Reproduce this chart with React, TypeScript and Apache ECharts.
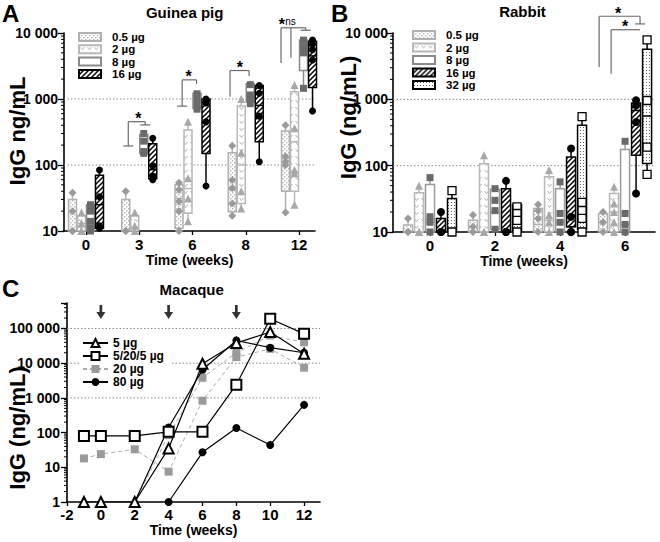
import React, { useEffect, useRef } from 'react';
import * as echarts from 'echarts';

const FONT = '"Liberation Sans", Arial, Helvetica, sans-serif';

// ---------- Panel A : Guinea pig ----------
const weeksA = ['0', '3', '6', '8', '12'];
const dosesA = ['0.5 µg', '2 µg', '8 µg', '16 µg'];
// box statistics per week: [min, q1, median, q3, max]
const boxA05 = [[10, 10, 20, 30, 38], [10, 10, 10, 30, 40], [10, 11, 31, 50, 54], [17, 19.5, 42, 153, 195], [19, 40, 126, 327, 400]];
const boxA2 = [[10, 10, 13, 17, 19], [10, 10, 11, 17, 19], [14, 18.5, 44, 340, 453], [22, 26, 100, 780, 1000], [25, 40, 225, 1290, 1630]];
const boxA8 = [[10, 10, 14, 25, 25], [150, 150, 225, 290, 300], [700, 720, 960, 1220, 1220], [850, 900, 1150, 1700, 1700], [1450, 2700, 5200, 7800, 7800]];
const boxA16 = [[11, 11, 25, 70, 84], [60, 62, 85, 210, 254], [48, 150, 450, 1000, 1000], [112, 225, 800, 1600, 1600], [660, 1500, 4500, 7500, 7800]];
// individual animals per week
const ptsA05 = [[38, 20, 10, 10], [40, 10, 10], [54, 42, 28, 20, 10], [195, 59, 45, 26, 17], [400, 135, 112, 100, 19]];
const ptsA2 = [[19, 13, 10, 10], [19, 12, 10], [453, 63, 31, 14], [1000, 153, 40, 22], [1630, 360, 84, 75, 25]];
const ptsA8 = [[25, 20, 14, 11, 10], [300, 230, 160, 150], [1200, 1000, 800, 700], [1650, 1150, 1000, 850], [7800, 6200, 5000, 1450]];
const ptsA16 = [[84, 33, 12, 11], [254, 97, 68, 60], [1000, 870, 450, 48], [1600, 1220, 550, 112], [7800, 6800, 5600, 3900, 660]];

// ---------- Panel B : Rabbit ----------
const weeksB = ['0', '2', '4', '6'];
const dosesB = ['0.5 µg', '2 µg', '8 µg', '16 µg', '32 µg'];
const boxB05 = [[10, 10, 10, 12.7, 16], [10, 10, 12, 15, 18], [10, 10, 13, 22.7, 26], [10, 10, 14, 19, 20]];
const boxB2 = [[10, 10, 10, 39, 50], [10, 10, 10, 107, 144], [10, 10, 15, 68, 86], [10, 10, 20, 38, 48]];
const boxB8 = [[10, 10, 14, 52, 66], [11, 11, 20, 44, 45], [10, 10, 14, 45, 57], [10, 10, 13, 175, 233]];
const boxB16 = [[10, 10, 10, 16, 20], [10, 10, 10, 45, 59], [10, 12, 12, 135, 181], [38, 144, 680, 880, 970]];
const boxB32 = [[10, 10, 10, 32, 42], [10, 10, 15, 26, 26], [10, 11, 22, 405, 550], [74, 108, 560, 5700, 7900]];
const ptsB05 = [[16, 10, 10], [18, 12, 10], [26, 21, 16, 10], [20, 14, 10]];
const ptsB2 = [[50, 10, 10], [144, 10, 10], [86, 18, 14, 10], [48, 27, 20, 14, 10]];
const ptsB8 = [[66, 17, 14, 10], [45, 30, 21, 11], [57, 19, 14, 10], [233, 19, 13, 10]];
const ptsB16 = [[20, 10, 10], [59, 10, 10], [181, 17, 10, 10], [970, 810, 455, 38]];
const ptsB32 = [[42, 10], [24, 19, 15, 10], [550, 28, 21, 16, 10], [7900, 960, 190, 74]];

// ---------- Panel C : Macaque ----------
const weeksC = [-1, 0, 2, 4, 6, 8, 10, 12];
const mac5 = [1, 1, 1, 35, 9600, 38000, 79000, 18700];
const mac5205 = [80, 80, 80, 105, 105, 2400, 190000, 70000];
const mac20a = [18, 24, 33, 7.5, 830, 15000, 26000, 7400];
const mac20bWeeks = [2, 4, 6, 8, 10, 12];
const mac20b = [1, 85, 3800, 20000, 63000, 40000];
const mac80aWeeks = [2, 4, 6, 8, 10, 12];
const mac80a = [1, 140, 6500, 45000, 28000, 20000];
const mac80bWeeks = [4, 6, 8, 10, 12];
const mac80b = [1, 27, 135, 44, 630];
const boostWeeks = [0, 4, 8];
const xTicksC = [-2, 0, 2, 4, 6, 8, 10, 12];

// gridlines & significance annotations
const gridAB = [100, 1000];
const gridC = [1000, 10000, 100000];
const bracketsA = [
  { g: 1, top: 453, legs: [[-1.22, 194, 1], [0.67, 405, 1]], labels: [[-0.1, '*']] },
  { g: 2, top: 1950, legs: [[-1.15, 780, 1], [0.45, 1700, 0]], labels: [[-0.44, '*']] },
  { g: 3, top: 2700, legs: [[-1.75, 1080, 0], [0.37, 2230, 0]], labels: [[-0.67, '*']] },
  { g: 4, top: 12000, legs: [[-2.0, 3500, 0], [-0.9, 4200, 0], [0.74, 11000, 1]], labels: [[-1.92, '*'], [-0.95, 'ns']] },
];
const bracketsB = [
  { g: 3, top: 17900, legs: [[-2.36, 3070, 0], [1.36, 13700, 1]], labels: [[-0.64, '*']] },
  { g: 3, top: 11200, legs: [[-1.27, 2440, 0], [1.36, 11200, 0]], labels: [[0, '*']] },
];

const fmtNum = (v: number) => String(Math.round(v)).replace(/\B(?=(\d{3})+(?!\d))/g, ' ');
const fmtPow = (v: number) => {
  const lg = Math.log10(v);
  return Math.abs(lg - Math.round(lg)) < 1e-6 ? fmtNum(Math.pow(10, Math.round(lg))) : '';
};
const minorLog = (lo: number, hi: number) => {
  const out: number[][] = [];
  for (let d = lo; d < hi; d *= 10) for (let k = 2; k <= 9; k++) if (d * k <= hi) out.push([0, d * k]);
  return out;
};

function makePattern(size: number, draw: (c: CanvasRenderingContext2D) => void) {
  const cv = document.createElement('canvas');
  cv.width = size; cv.height = size;
  const ctx = cv.getContext('2d')!;
  ctx.fillStyle = '#fff'; ctx.fillRect(0, 0, size, size);
  draw(ctx);
  return { image: cv, repeat: 'repeat', imageWidth: size, imageHeight: size } as any;
}

function buildOption() {
  const dotsLight = makePattern(4, (c) => { c.fillStyle = '#b4b4b4'; c.fillRect(0, 0, 1.4, 1.4); c.fillRect(2, 2, 1.4, 1.4); });
  const chevrons = makePattern(7, (c) => { c.strokeStyle = '#b0b0b0'; c.lineWidth = 1; c.beginPath(); c.moveTo(1.5, 2); c.lineTo(3.5, 4.5); c.lineTo(5.5, 2); c.stroke(); });
  const hatch = makePattern(5, (c) => {
    c.strokeStyle = '#000'; c.lineWidth = 1.5; c.beginPath();
    c.moveTo(-1, 6); c.lineTo(6, -1); c.moveTo(-1, 1); c.lineTo(1, -1); c.moveTo(4, 6); c.lineTo(6, 4); c.stroke();
  });
  const dotsDark = makePattern(3, (c) => { c.fillStyle = '#666'; c.fillRect(1, 1, 1, 1); });

  const styleA = [
    { fill: dotsLight, stroke: '#b0b0b0', sym: 'diamond', sc: '#9a9a9a', size: 8 },
    { fill: chevrons, stroke: '#b8b8b8', sym: 'triangle', sc: '#a8a8a8', size: 8 },
    { fill: '#fff', stroke: '#8a8a8a', sym: 'rect', sc: '#6a6a6a', size: 7 },
    { fill: hatch, stroke: '#000', sym: 'circle', sc: '#000', size: 7 },
  ];
  const styleB = [
    { fill: dotsLight, stroke: '#b0b0b0', sym: 'diamond', sc: '#9a9a9a', size: 8 },
    { fill: chevrons, stroke: '#b8b8b8', sym: 'triangle', sc: '#a8a8a8', size: 8 },
    { fill: '#fff', stroke: '#9a9a9a', sym: 'rect', sc: '#6a6a6a', size: 7 },
    { fill: hatch, stroke: '#000', sym: 'circle', sc: '#000', size: 8 },
    { fill: dotsDark, stroke: '#000', sym: 'rect', sc: '#fff', size: 8, border: '#000' },
  ];

  const boxSeries = (name: string, grid: number, boxes: number[][], j: number, n: number, slot: number, w: number, st: any) => ({
    type: 'custom', name, xAxisIndex: grid, yAxisIndex: grid, z: 3,
    itemStyle: { color: st.fill, borderColor: st.stroke, borderWidth: 1.5 },
    data: boxes.map((b, i) => [i, ...b]),
    renderItem: (params: any, api: any) => {
      const g = api.value(0);
      const off = (j - (n - 1) / 2) * slot;
      const y = (k: number) => api.coord([g, api.value(k)])[1];
      const cx = api.coord([g, api.value(3)])[0] + off;
      const yMin = y(1), yQ1 = y(2), yMed = y(3), yQ3 = y(4), yMax = y(5);
      const s = { stroke: st.stroke, lineWidth: 1.5 };
      return {
        type: 'group', children: [
          { type: 'line', shape: { x1: cx, y1: yMax, x2: cx, y2: yQ3 }, style: s },
          { type: 'line', shape: { x1: cx, y1: yQ1, x2: cx, y2: yMin }, style: s },
          { type: 'rect', shape: { x: cx - w / 2, y: yQ3, width: w, height: Math.max(yQ1 - yQ3, 0.5) }, style: { ...s, fill: st.fill } },
          { type: 'line', shape: { x1: cx - w / 2, y1: yMed, x2: cx + w / 2, y2: yMed }, style: s },
        ],
      };
    },
  });
  const ptSeries = (name: string, grid: number, pts: number[][], j: number, n: number, slot: number, st: any) => ({
    type: 'scatter', name, xAxisIndex: grid, yAxisIndex: grid, z: 4,
    symbol: st.sym, symbolSize: st.size, symbolOffset: [(j - (n - 1) / 2) * slot, 0],
    itemStyle: { color: st.sc, borderColor: st.border || st.sc, borderWidth: st.border ? 1.3 : 0, opacity: 1 },
    data: pts.flatMap((arr, i) => arr.map((v) => [i, v])),
  });
  const gridSeries = (grid: number, vals: number[]) => ({
    type: 'custom', xAxisIndex: grid, yAxisIndex: grid, z: 1, silent: true,
    data: vals.map((v) => [0, v]),
    renderItem: (params: any, api: any) => {
      const cs = params.coordSys;
      const yy = api.coord([api.value(0), api.value(1)])[1];
      return { type: 'line', shape: { x1: cs.x, y1: yy, x2: cs.x + cs.width, y2: yy }, style: { stroke: '#8c8c8c', lineWidth: 1, lineDash: [1.5, 2] } };
    },
  });
  const minorSeries = (grid: number, vals: number[][]) => ({
    type: 'custom', xAxisIndex: grid, yAxisIndex: grid, z: 5, silent: true,
    data: vals.map((r) => [r[0], r[1]]),
    renderItem: (params: any, api: any) => {
      const cs = params.coordSys;
      const yy = api.coord([api.value(0), api.value(1)])[1];
      return { type: 'line', shape: { x1: cs.x - 3, y1: yy, x2: cs.x, y2: yy }, style: { stroke: '#000', lineWidth: 1 } };
    },
  });
  const bracketSeries = (grid: number, list: any[], slot: number) => ({
    type: 'custom', xAxisIndex: grid, yAxisIndex: grid, z: 6, silent: true,
    data: list.map((b) => [b.g, b.top]),
    renderItem: (params: any, api: any) => {
      const b = list[params.dataIndex];
      const p = api.coord([api.value(0), api.value(1)]);
      const cx = p[0], topY = p[1];
      const ln = { stroke: '#6a6a6a', lineWidth: 1.2 };
      const xs = b.legs.map((l: number[]) => cx + l[0] * slot);
      const children: any[] = [
        { type: 'line', shape: { x1: Math.min(...xs), y1: topY, x2: Math.max(...xs), y2: topY }, style: ln },
      ];
      b.legs.forEach((l: number[], k: number) => {
        const yb = api.coord([api.value(0), l[1]])[1];
        children.push({ type: 'line', shape: { x1: xs[k], y1: topY, x2: xs[k], y2: yb }, style: ln });
        if (l[2]) children.push({ type: 'line', shape: { x1: xs[k] - 5, y1: yb, x2: xs[k] + 5, y2: yb }, style: ln });
      });
      b.labels.forEach((lb: any[]) => {
        const star = lb[1] === '*';
        children.push({
          type: 'text', x: cx + lb[0] * slot, y: topY - (star ? 3 : 6),
          style: { text: lb[1], font: star ? `bold 16px ${FONT}` : `10px ${FONT}`, fill: '#000', textAlign: 'center', textVerticalAlign: 'middle' },
        });
      });
      return { type: 'group', children };
    },
  });

  const series: any[] = [];
  series.push(gridSeries(0, gridAB), gridSeries(1, gridAB), gridSeries(2, gridC));
  const boxesA = [boxA05, boxA2, boxA8, boxA16];
  const pointsA = [ptsA05, ptsA2, ptsA8, ptsA16];
  const boxesB = [boxB05, boxB2, boxB8, boxB16, boxB32];
  const pointsB = [ptsB05, ptsB2, ptsB8, ptsB16, ptsB32];
  dosesA.forEach((d, j) => series.push(boxSeries(d, 0, boxesA[j], j, 4, 9, 8, styleA[j])));
  dosesB.forEach((d, j) => series.push(boxSeries(d, 1, boxesB[j], j, 5, 11, 9, styleB[j])));
  dosesA.forEach((d, j) => series.push(ptSeries(d, 0, pointsA[j], j, 4, 9, styleA[j])));
  dosesB.forEach((d, j) => series.push(ptSeries(d, 1, pointsB[j], j, 5, 11, styleB[j])));
  series.push(bracketSeries(0, bracketsA, 9), bracketSeries(1, bracketsB, 11));
  series.push(minorSeries(0, minorLog(10, 10000)), minorSeries(1, minorLog(10, 10000)), minorSeries(2, minorLog(1, 543000)));

  const lineS = (name: string, xs: number[], ys: number[], opt: any, hideFirst = false) => ({
    type: 'line', name, xAxisIndex: 2, yAxisIndex: 2,
    data: ys.map((v, i) => (hideFirst && i === 0 ? { value: [xs[i], v], symbol: 'none' } : [xs[i], v])),
    ...opt,
  });
  const gray20 = { symbol: 'rect', symbolSize: 8, itemStyle: { color: '#9a9a9a' }, lineStyle: { color: '#aaaaaa', width: 1, type: [4, 3] }, z: 3 };
  const black80 = { symbol: 'circle', symbolSize: 8, itemStyle: { color: '#000' }, lineStyle: { color: '#000', width: 1.2 }, z: 4 };
  series.push(
    lineS('20 µg', weeksC, mac20a, gray20),
    lineS('20 µg', mac20bWeeks, mac20b, gray20, true),
    lineS('80 µg', mac80aWeeks, mac80a, black80, true),
    lineS('80 µg', mac80bWeeks, mac80b, black80),
    lineS('5/20/5 µg', weeksC, mac5205, { symbol: 'emptyRect', symbolSize: 10, itemStyle: { color: '#000', borderWidth: 1.2 }, lineStyle: { color: '#000', width: 1.2 }, z: 5 }),
    lineS('5 µg', weeksC, mac5, { symbol: 'emptyTriangle', symbolSize: 10, itemStyle: { color: '#000', borderWidth: 1.2 }, lineStyle: { color: '#000', width: 1.2 }, z: 6 }),
    {
      type: 'scatter', name: 'boost', xAxisIndex: 2, yAxisIndex: 2, z: 6, silent: true,
      symbol: 'path://M2.5,0 L5.5,0 L5.5,7 L9,7 L4,14 L-1,7 L2.5,7 Z', symbolSize: [9, 14],
      itemStyle: { color: '#000' },
      data: boostWeeks.map((w) => [w, 300000]),
    },
  );

  const axisLine = { show: true, onZero: false, lineStyle: { color: '#000', width: 1.6 } };
  const tickStyle = { lineStyle: { color: '#000', width: 1.3 } };
  const lab = (size: number, margin: number) => ({ color: '#000', fontFamily: FONT, fontWeight: 'bold' as const, fontSize: size, margin });
  const xName = (gap: number) => ({
    name: 'Time (weeks)', nameLocation: 'middle' as const, nameGap: gap,
    nameTextStyle: { color: '#000', fontFamily: FONT, fontWeight: 'bold' as const, fontSize: 14 },
  });

  const legendBase = {
    orient: 'vertical', icon: 'rect', itemWidth: 22, itemHeight: 8, padding: 0,
    textStyle: { color: '#000', fontFamily: FONT, fontWeight: 'bold', fontSize: 11.5, lineHeight: 12, padding: [0, 0, 0, 6] },
    selectedMode: false,
  };

  const titleText = (text: string, x: number, y: number, size: number, align = 'center', rotation = 0) => ({
    type: 'text', x, y, rotation, silent: true,
    style: { text, font: `bold ${size}px ${FONT}`, fill: '#000', textAlign: align, textVerticalAlign: 'middle' },
  });

  return {
    animation: false,
    backgroundColor: '#fff',
    grid: [
      { left: 64, top: 33, width: 251, height: 198 },
      { left: 393, top: 33, width: 262, height: 199 },
      { left: 67, top: 303, width: 253, height: 199 },
    ],
    xAxis: [
      {
        type: 'value', gridIndex: 0, min: -0.413, max: 4.3, axisLine, splitLine: { show: false },
        axisTick: { show: true, length: 4, customValues: [0, 1, 2, 3, 4], ...tickStyle },
        axisLabel: { ...lab(15, 6), customValues: [0, 1, 2, 3, 4], formatter: (v: number) => weeksA[Math.round(v)] },
        ...xName(19),
      },
      {
        type: 'value', gridIndex: 1, min: -0.569, max: 3.46, axisLine, splitLine: { show: false },
        axisTick: { show: true, length: 4, customValues: [0, 1, 2, 3], ...tickStyle },
        axisLabel: { ...lab(15, 6), customValues: [0, 1, 2, 3], formatter: (v: number) => weeksB[Math.round(v)] },
        ...xName(18),
      },
      {
        type: 'value', gridIndex: 2, min: -2, max: 12.94, axisLine, splitLine: { show: false },
        axisTick: { show: true, length: 4, customValues: xTicksC, ...tickStyle },
        axisLabel: { ...lab(15, 5), customValues: xTicksC, formatter: (v: number) => String(v) },
        ...xName(16),
      },
    ],
    yAxis: [
      {
        type: 'log', logBase: 10, gridIndex: 0, min: 10, max: 10000, axisLine, splitLine: { show: false },
        axisTick: { show: true, length: 6, ...tickStyle }, axisLabel: { ...lab(14, 6), formatter: fmtPow },
      },
      {
        type: 'log', logBase: 10, gridIndex: 1, min: 10, max: 10000, axisLine, splitLine: { show: false },
        axisTick: { show: true, length: 6, ...tickStyle }, axisLabel: { ...lab(14, 5), formatter: fmtPow },
      },
      {
        type: 'log', logBase: 10, gridIndex: 2, min: 1, max: 543000, axisLine, splitLine: { show: false },
        axisTick: { show: true, length: 6, ...tickStyle }, axisLabel: { ...lab(14, 7), formatter: fmtPow },
      },
    ],
    legend: [
      { ...legendBase, left: 78, top: 31, itemGap: 0.3, data: dosesA },
      { ...legendBase, left: 412, top: 29, itemGap: 0.5, data: dosesB },
      {
        ...legendBase, icon: undefined, left: 79, top: 334, itemWidth: 25, itemHeight: 10, itemGap: 1,
        padding: [3, 8, 3, 3], backgroundColor: '#fff',
        textStyle: { color: '#000', fontFamily: FONT, fontWeight: 'bold', fontSize: 12, lineHeight: 12 },
        data: ['5 µg', '5/20/5 µg', '20 µg', '80 µg'],
      },
    ],
    graphic: [
      titleText('A', 2, 13.5, 24, 'left'),
      titleText('B', 331, 13, 24, 'left'),
      titleText('C', 2, 288, 24, 'left'),
      titleText('Guinea pig', 184.7, 12.5, 15),
      titleText('Rabbit', 522.5, 11.7, 15),
      titleText('Macaque', 191.7, 289, 15),
      titleText('IgG ng/mL', 17.5, 131, 22, 'center', Math.PI / 2),
      titleText('IgG (ng/mL)', 348, 117.5, 22, 'center', Math.PI / 2),
      titleText('IgG (ng/mL)', 17.5, 428, 22, 'center', Math.PI / 2),
    ],
    series,
  };
}

export default function App() {
  const ref = useRef<HTMLDivElement>(null);
  useEffect(() => {
    document.body.style.margin = '0';
    const chart = echarts.init(ref.current!, null, { renderer: 'svg' });
    chart.setOption(buildOption() as any);
    return () => chart.dispose();
  }, []);
  return <div ref={ref} style={{ position: 'absolute', left: 0, top: 0, width: 660, height: 542 }} />;
}
